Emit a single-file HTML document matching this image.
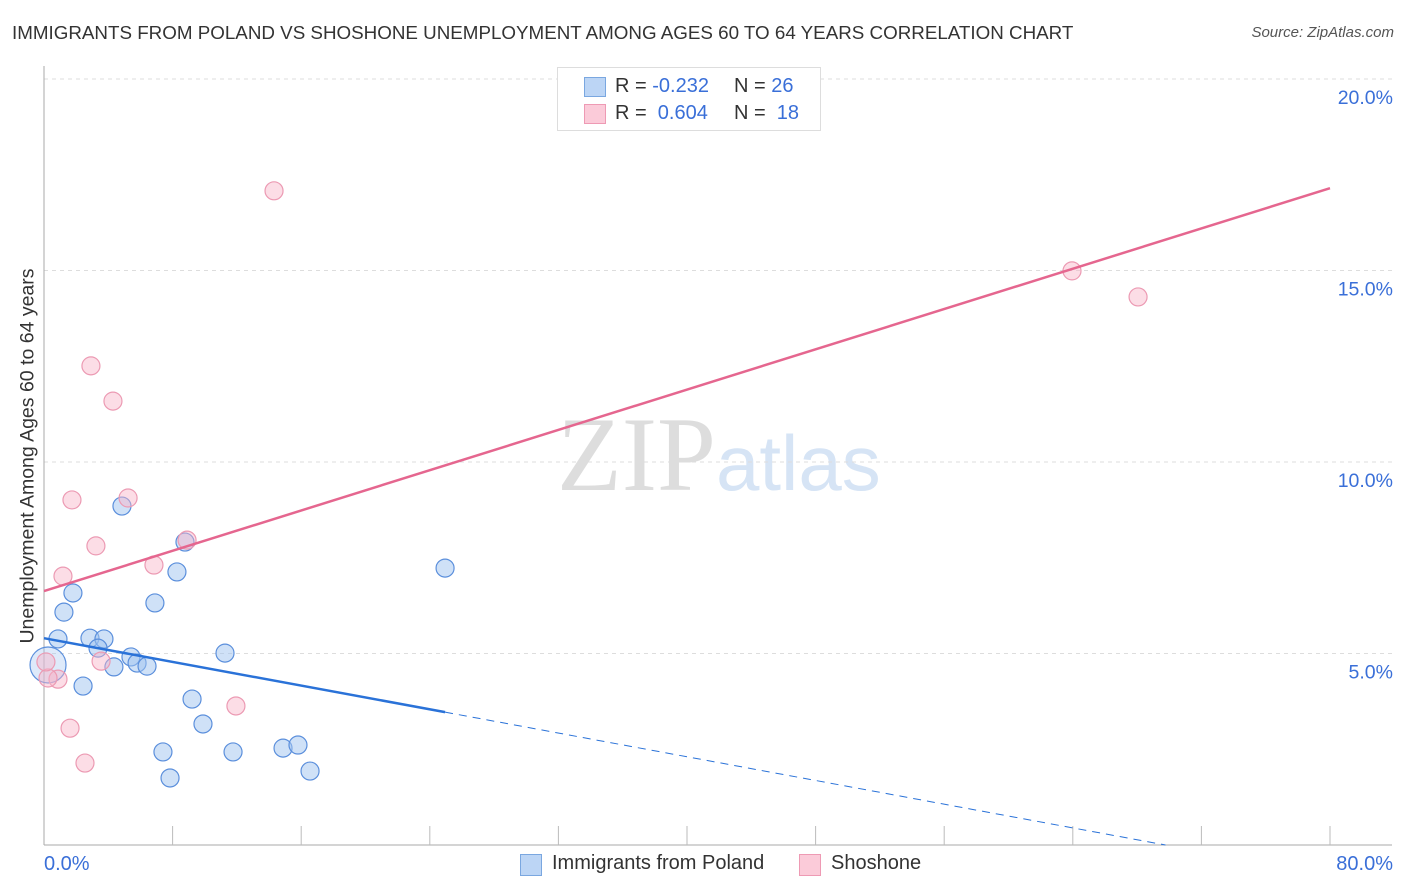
<!DOCTYPE html>
<html><head><meta charset="utf-8"><style>
body{margin:0;background:#fff;font-family:"Liberation Sans",sans-serif;}
#wrap{position:relative;width:1406px;height:892px;overflow:hidden;}
.t{position:absolute;white-space:nowrap;}
</style></head><body>
<div id="wrap">
<div class="t" style="left:12px;top:22px;font-size:18.8px;color:#333;">IMMIGRANTS FROM POLAND VS SHOSHONE UNEMPLOYMENT AMONG AGES 60 TO 64 YEARS CORRELATION CHART</div>
<div class="t" style="right:12px;top:24px;font-size:15px;color:#555;font-style:italic;">Source: ZipAtlas.com</div>
<div class="t" style="left:28px;top:456px;font-size:19.5px;color:#333;transform:translate(-50%,-50%) rotate(-90deg);">Unemployment Among Ages 60 to 64 years</div>
<svg id="svg" width="1406" height="892" style="position:absolute;left:0;top:0">
<text x="716" y="490" font-size="106" font-family="Liberation Serif" fill="#ddd" text-anchor="end">ZIP</text>
<text x="716" y="490" font-size="78" font-family="Liberation Sans" fill="#d6e4f5">atlas</text>
</svg>
<div style="position:absolute;left:557px;top:67px;width:262px;height:62px;border:1px solid #ddd;background:#fff;font-size:20px;">
<div style="position:absolute;left:26px;top:9px;width:20px;height:18px;background:#bcd5f5;border:1px solid #7aa7e0;"></div>
<div class="t" style="left:57px;top:7px;color:#333;">R = <span style="color:#3a6fd8">-0.232</span></div>
<div class="t" style="left:176px;top:7px;color:#333;">N = <span style="color:#3a6fd8">26</span></div>
<div style="position:absolute;left:26px;top:36px;width:20px;height:18px;background:#fbcbd9;border:1px solid #ee9ab4;"></div>
<div class="t" style="left:57px;top:34px;color:#333;">R = &nbsp;<span style="color:#3a6fd8">0.604</span></div>
<div class="t" style="left:176px;top:34px;color:#333;">N = &nbsp;<span style="color:#3a6fd8">18</span></div>
</div>
<div>
<div style="position:absolute;left:520px;top:854px;width:20px;height:20px;background:#bcd5f5;border:1px solid #7aa7e0;"></div>
<div class="t" style="left:552px;top:852px;font-size:20px;color:#333;">Immigrants from Poland</div>
<div style="position:absolute;left:799px;top:854px;width:20px;height:20px;background:#fbcbd9;border:1px solid #ee9ab4;"></div>
<div class="t" style="left:831px;top:852px;font-size:20px;color:#333;">Shoshone</div>
</div>
</div>
<script>
const yTicks=[5,10,15,20];
const yTickLabels=["5.0%","10.0%","15.0%","20.0%"];
const xTicks=[8,16,24,32,40,48,56,64,72,80];
const polandX=[4.85,8.77,8.27,6.9,1.8,1.24,0.87,2.86,3.73,3.36,5.41,5.79,6.41,4.35,11.26,24.95,2.43,9.21,9.89,7.4,11.76,14.87,15.8,7.84,16.55,0.25];
const polandY=[8.85,7.91,7.13,6.32,6.58,6.08,5.38,5.4,5.38,5.14,4.91,4.75,4.67,4.65,5.01,7.23,4.15,3.81,3.16,2.43,2.43,2.53,2.61,1.75,1.93,4.7];
const shoX=[14.31,2.92,4.29,1.74,5.23,3.23,8.9,6.84,1.18,3.55,0.87,0.25,11.94,1.62,2.55,63.95,68.06,0.12];
const shoY=[17.08,12.51,11.59,9.01,9.06,7.81,7.96,7.31,7.02,4.8,4.33,4.36,3.63,3.05,2.14,14.99,14.31,4.78];
const polandTrend=[5.4,-0.0774]; // intercept, slope
const shoTrend=[6.63,0.1315];
const X=v=>44+v/80*1286, Y=v=>845-v*38.3;
const svg=document.getElementById('svg'),NS='http://www.w3.org/2000/svg';
function mk(tag,a){const e=document.createElementNS(NS,tag);for(const k in a)e.setAttribute(k,a[k]);svg.appendChild(e);return e;}
yTicks.forEach((v,i)=>{
 const g=mk('line',{x1:44,x2:1392,y1:Y(v),y2:Y(v),stroke:'#ddd','stroke-dasharray':'4,4'});
 
 
 const t=mk('text',{x:1393,y:Y(v)+25,'text-anchor':'end','font-size':19.5,fill:'#3a6fd8'});t.textContent=yTickLabels[i];
 
 
});
const ax=mk('line',{x1:44,x2:44,y1:66,y2:845,stroke:'#aaa'});


const bx=mk('line',{x1:44,x2:1392,y1:845,y2:845,stroke:'#aaa'});


xTicks.forEach(v=>{const l=mk('line',{x1:X(v),x2:X(v),y1:826,y2:845,stroke:'#bbb'});
 
 });
const xl0=mk('text',{x:44,y:870,'font-size':20,fill:'#3a6fd8'});xl0.textContent='0.0%';


const xl1=mk('text',{x:1393,y:870,'font-size':20,fill:'#3a6fd8','text-anchor':'end'});xl1.textContent='80.0%';


function dots(xs,ys,fill,stroke,name){xs.forEach((x,i)=>{const big=(i==xs.length-1&&name=='poland-point');const r=big?18:9;
 const c=mk('circle',{cx:X(x),cy:Y(ys[i]),r:r,fill:big?'rgba(160,196,240,0.35)':fill,stroke:stroke,'stroke-width':1.2});
 
 });}
dots(polandX,polandY,'rgba(160,196,240,0.5)','#5b8fdc','poland-point');
dots(shoX,shoY,'rgba(248,180,200,0.45)','#ec9ab3','shoshone-point');
const bEnd=24.95, bZero=-polandTrend[0]/polandTrend[1];
const l1=mk('line',{x1:X(0),y1:Y(polandTrend[0]),x2:X(bEnd),y2:Y(polandTrend[0]+polandTrend[1]*bEnd),stroke:'#2a72d8','stroke-width':2.5});


const l2=mk('line',{x1:X(bEnd),y1:Y(polandTrend[0]+polandTrend[1]*bEnd),x2:X(bZero),y2:Y(0),stroke:'#2a72d8','stroke-width':1,'stroke-dasharray':'8,6'});


const l3=mk('line',{x1:X(0),y1:Y(shoTrend[0]),x2:X(80),y2:Y(shoTrend[0]+shoTrend[1]*80),stroke:'#e5668f','stroke-width':2.5});


</script>
</body></html>
